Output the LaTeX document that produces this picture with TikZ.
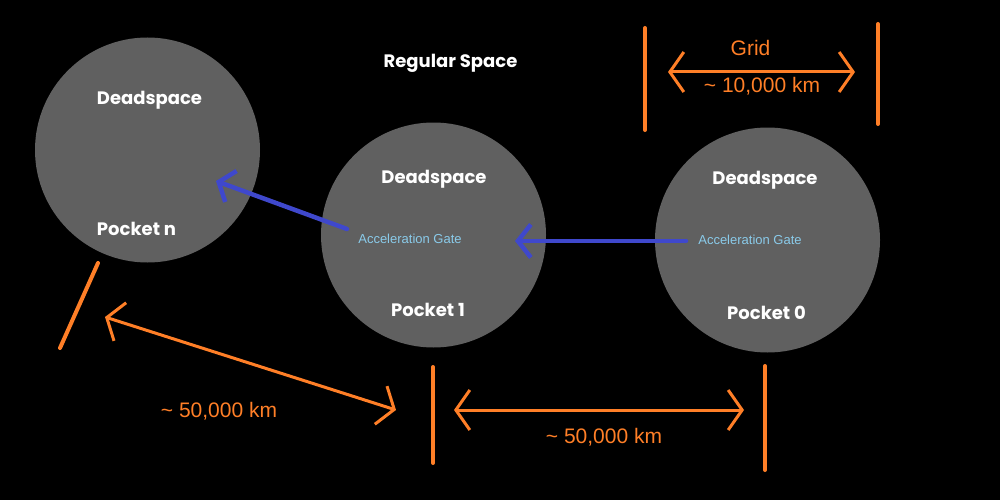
\documentclass[tikz,border=0pt]{standalone}
\usepackage{fontspec}
\setmainfont{Liberation Sans}
\newfontfamily\disp{Poppins}
\usetikzlibrary{arrows.meta}
\definecolor{pocketgray}{HTML}{606060}
\definecolor{org}{HTML}{FF7F27}
\definecolor{ind}{HTML}{3F48CC}
\definecolor{gatecol}{HTML}{8ACBEA}
\begin{document}
\begin{tikzpicture}[x=1pt,y=-1pt,
  pocket/.style={circle, fill=pocketgray, minimum size=225pt, inner sep=0pt},
  title/.style={text=white, font=\disp\bfseries\fontsize{18}{21}\selectfont, inner sep=0pt},
  gatelbl/.style={text=gatecol, font=\fontsize{13}{15}\selectfont, inner sep=0pt},
  dist/.style={text=org, font=\fontsize{21}{24}\selectfont, inner sep=0pt},
  bar/.style={draw=org, line width=4pt, line cap=round},
  dimarrow/.style={draw=org, line width=3pt, {Straight Barb[length=14pt,width=40pt]}-{Straight Barb[length=14pt,width=40pt]}},
  gatearrow/.style={draw=ind, line width=4.5pt, line cap=round, -{Straight Barb[length=13pt,width=33pt]}}]
\fill[black] (0,0) rectangle (1000,500);
\useasboundingbox (0,0) rectangle (1000,500);

% pockets
\node[pocket] (pn) at (147.5,150) {};
\node[pocket] (p1) at (433.5,235) {};
\node[pocket] (p0) at (767.5,240) {};

% titles
\node[title] (rs) at (450.5,63) {Regular Space};
\node[title] (dn) at (149.5,100) {Deadspace};
\node[title] (kn) at (136.5,229) {Pocket n};
\node[title] (d1) at (434,179) {Deadspace};
\node[title] (k1) at (428,310) {Pocket 1};
\node[title] (d0) at (765,180) {Deadspace};
\node[title] (k0) at (766.5,313) {Pocket 0};

% gates
\node[gatelbl] (g1) at (410,239) {Acceleration Gate};
\node[gatelbl] (g0) at (750,240) {Acceleration Gate};

% gate arrows
\coordinate (g0s) at (686,241);
\coordinate (g0t) at (515,241);
\coordinate (g1s) at (347,229);
\coordinate (g1t) at (216,181);
\draw[gatearrow] (g0s) -- (g0t);
\draw[gatearrow] (g1s) -- (g1t);

% grid scale
\coordinate (ga1) at (645,28);  \coordinate (ga2) at (645,130);
\coordinate (gb1) at (878,24);  \coordinate (gb2) at (878,124);
\draw[bar] (ga1) -- (ga2);
\draw[bar] (gb1) -- (gb2);
\coordinate (gl) at (668,72); \coordinate (gr) at (855,72);
\draw[dimarrow] (gl) -- (gr);
\node[dist] (gridlbl) at (750.5,48) {Grid};
\node[dist] (g10k) at (762,86) {\textasciitilde\ 10,000 km};

% bottom scale
\coordinate (ba1) at (433,367); \coordinate (ba2) at (433,463);
\coordinate (bb1) at (765,366); \coordinate (bb2) at (765,470);
\draw[bar] (ba1) -- (ba2);
\draw[bar] (bb1) -- (bb2);
\coordinate (bl) at (454,410); \coordinate (br) at (744,410);
\draw[dimarrow] (bl) -- (br);
\node[dist] (b50k) at (604,437) {\textasciitilde\ 50,000 km};

% slanted scale
\coordinate (sa1) at (98,263); \coordinate (sa2) at (60,348);
\draw[bar] (sa1) -- (sa2);
\coordinate (sl) at (105,317); \coordinate (sr) at (396,410);
\draw[dimarrow] (sl) -- (sr);
\node[dist] (s50k) at (219,411) {\textasciitilde\ 50,000 km};
\end{tikzpicture}
\end{document}
